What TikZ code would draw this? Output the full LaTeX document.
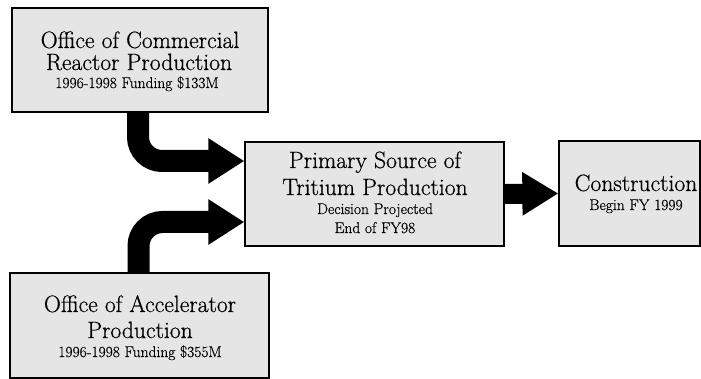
\documentclass[tikz,border=0pt]{standalone}
\usepackage{fontspec}
\setmainfont{Latin Modern Roman}[FakeBold=0.6]
\usetikzlibrary{arrows.meta}
\begin{document}
\begin{tikzpicture}[x=1pt,y=-1pt,
  box/.style={draw=black, line width=1.3pt, fill=black!10, inner sep=0pt},
  big/.style={font=\fontsize{23.6}{25}\selectfont, anchor=base, inner sep=0pt},
  small/.style={font=\fontsize{15.5}{17}\selectfont, anchor=base, inner sep=0pt},
  fat/.style={line width=22pt, rounded corners=24pt, -{Triangle[length=36pt,width=43pt]}},
  midarrow/.style={line width=20pt, -{Triangle[length=36pt,width=41pt]}},
]
\useasboundingbox (0,0) rectangle (701,379);
% boxes
\node[box, minimum width=256pt, minimum height=104pt] (com) at (140,60) {};
\node[box, minimum width=259pt, minimum height=105pt] (acc) at (139.5,325.5) {};
\node[box, minimum width=259pt, minimum height=104pt] (prim) at (374.5,194) {};
\node[box, minimum width=141pt, minimum height=105pt] (con) at (629.5,193.5) {};
% texts
\node[big] (c1) at (140,48) {Office of Commercial};
\node[big] (c2) at (139,70) {Reactor Production};
\node[small] (c3) at (137,88) {1996-1998 Funding \$133M};
\node[big] (a1) at (140,312) {Office of Accelerator};
\node[big] (a2) at (140,338) {Production};
\node[small] (a3) at (140,357) {1996-1998 Funding \$355M};
\node[big] (p1) at (375,168) {Primary Source of};
\node[big] (p2) at (375,195) {Tritium Production};
\node[small] (p3) at (375,214) {Decision Projected};
\node[small] (p4) at (375,233) {End of FY98};
\node[big] (k1) at (636,191) {Construction};
\node[small] (k2) at (636,210) {Begin FY 1999};
% arrows
\draw[fat] ([xshift=-2pt]com.south) |- ([yshift=33pt]prim.west);
\draw[fat] ([xshift=-1pt]acc.north) |- ([yshift=-28pt]prim.west);
\draw[midarrow] (prim.east) -- (con.west);
\end{tikzpicture}
\end{document}
